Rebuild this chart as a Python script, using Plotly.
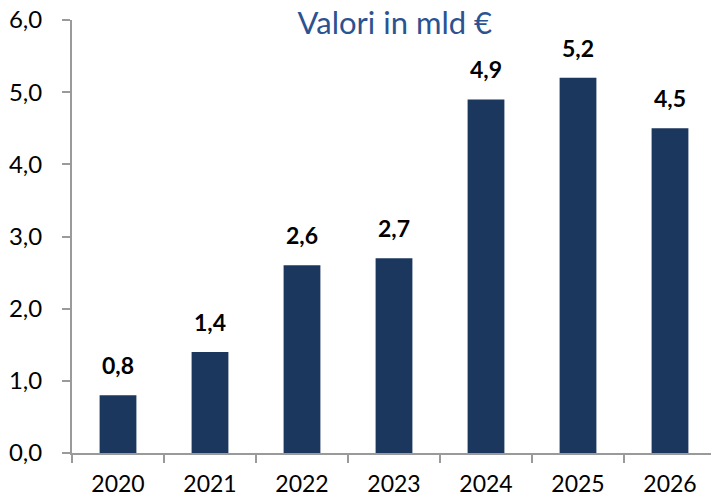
import plotly.graph_objects as go

years = ["2020", "2021", "2022", "2023", "2024", "2025", "2026"]
values = [0.8, 1.4, 2.6, 2.7, 4.9, 5.2, 4.5]
y_ticks = [0, 1, 2, 3, 4, 5, 6]
title_text = "Valori in mld €"

bar_color = "#1B375E"
axis_color = "#9A9A9A"
font_family = "Lato, 'Open Sans', sans-serif"

fig = go.Figure()
fig.add_trace(go.Bar(
    x=years, y=values, marker=dict(color=bar_color, line=dict(width=0)),
    width=0.4, hoverinfo="skip",
))

for i, v in enumerate(values):
    fig.add_annotation(
        x=i, y=v, text="<b>" + f"{v:.1f}".replace(".", ",") + "</b>",
        showarrow=False, yanchor="bottom", yshift=14,
        font=dict(size=23, color="#000000", family=font_family),
    )

fig.update_layout(
    width=711, height=490,
    margin=dict(l=64, r=3, t=12, b=45, autoexpand=False),
    paper_bgcolor="white", plot_bgcolor="white",
    separators=",.",
    showlegend=False,
    font=dict(family=font_family, color="#000000"),
    title=dict(text=title_text, x=0.544, xanchor="center", y=0.969, yanchor="middle",
               font=dict(size=31, color="#2B5291", family=font_family)),
    xaxis=dict(
        type="category", range=[-0.5, len(years) - 0.5], automargin=False,
        showline=True, linecolor=axis_color, linewidth=2,
        ticks="outside", ticklen=8, tickcolor=axis_color, tickwidth=2,
        tickson="boundaries", showgrid=False, ticklabelstandoff=9,
        ticklabeloverflow="allow",
        tickfont=dict(size=23, color="#000000"),
    ),
    yaxis=dict(
        range=[0, 6], tickvals=y_ticks, tickformat=".1f", automargin=False,
        showline=True, linecolor=axis_color, linewidth=2,
        ticks="outside", ticklen=8, tickcolor=axis_color, tickwidth=2,
        showgrid=False, zeroline=False, ticklabelstandoff=15,
        ticklabeloverflow="allow",
        tickfont=dict(size=24, color="#000000"),
    ),
)

fig.write_html("out.html")
